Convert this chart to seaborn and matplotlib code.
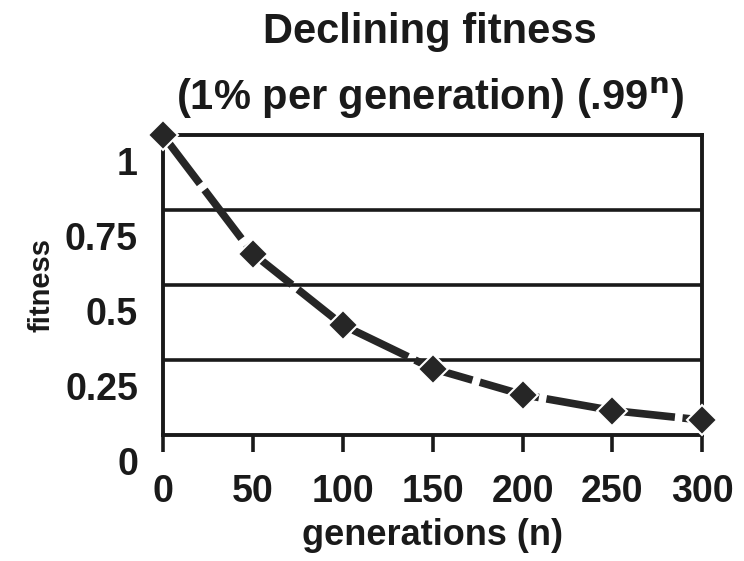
import matplotlib
matplotlib.use("Agg")
import matplotlib.pyplot as plt
import matplotlib.transforms as mtransforms
import seaborn as sns
import pandas as pd

generations = [0, 50, 100, 150, 200, 250, 300]
fitness = [1.0, 0.605, 0.366, 0.221, 0.134, 0.081, 0.049]
y_ticks = [0, 0.25, 0.5, 0.75, 1]
y_labels = ['0', '0.25', '0.5', '0.75', '1']

df = pd.DataFrame({'generations': generations, 'fitness': fitness})

sns.set_theme(style='white')
plt.rcParams['font.family'] = ['Liberation Sans', 'DejaVu Sans']
plt.rcParams['font.weight'] = 'bold'

fig = plt.figure(figsize=(7.44, 5.61), dpi=100)
ax = fig.add_axes([0.219, 0.225, 0.725, 0.534])

ax.set_xlim(0, 300)
ax.set_ylim(0, 1)

# horizontal grid lines
for yv in y_ticks[1:-1]:
    ax.axhline(yv, color='#1a1a1a', lw=2.6, zorder=1)

sns.lineplot(data=df, x='generations', y='fitness', ax=ax, color='#262626',
             lw=5.5, marker='D', markersize=15, markeredgecolor='white',
             markeredgewidth=1.5, markerfacecolor='#262626', clip_on=False,
             zorder=3)
ax.lines[-1].set_dashes([8, 1.0])

for s in ax.spines.values():
    s.set_color('#1a1a1a')
    s.set_linewidth(2.8)

ax.set_xticks(generations)
ax.set_xticklabels([str(g) for g in generations], fontsize=27, fontweight='bold',
                   color='#1a1a1a')
ax.tick_params(axis='x', direction='out', length=12, width=2.6, color='#1a1a1a',
               pad=16, bottom=True)
ax.set_yticks(y_ticks)
ax.set_yticklabels(y_labels, fontsize=27, fontweight='bold', color='#1a1a1a')
ax.tick_params(axis='y', length=0, pad=18, left=False)

# tick labels sit a bit below their lines in the original
offset = mtransforms.ScaledTranslation(0, -0.26, fig.dpi_scale_trans)
for lab in ax.get_yticklabels():
    lab.set_transform(lab.get_transform() + offset)

ax.set_xlabel('generations (n)', fontsize=26, fontweight='bold', color='#1a1a1a',
              labelpad=6)
ax.set_ylabel('fitness', fontsize=21, fontweight='bold', color='#1a1a1a',
              labelpad=7)

fig.text(0.578, 0.943, 'Declining fitness', ha='center', va='center', fontsize=30,
         fontweight='bold', color='#1a1a1a')
fig.text(0.578, 0.826, r'(1% per generation) (.99$^\mathbf{n}$)', ha='center',
         va='center', fontsize=30, fontweight='bold', color='#1a1a1a')

fig.savefig('out.png', dpi=100, facecolor='white')
